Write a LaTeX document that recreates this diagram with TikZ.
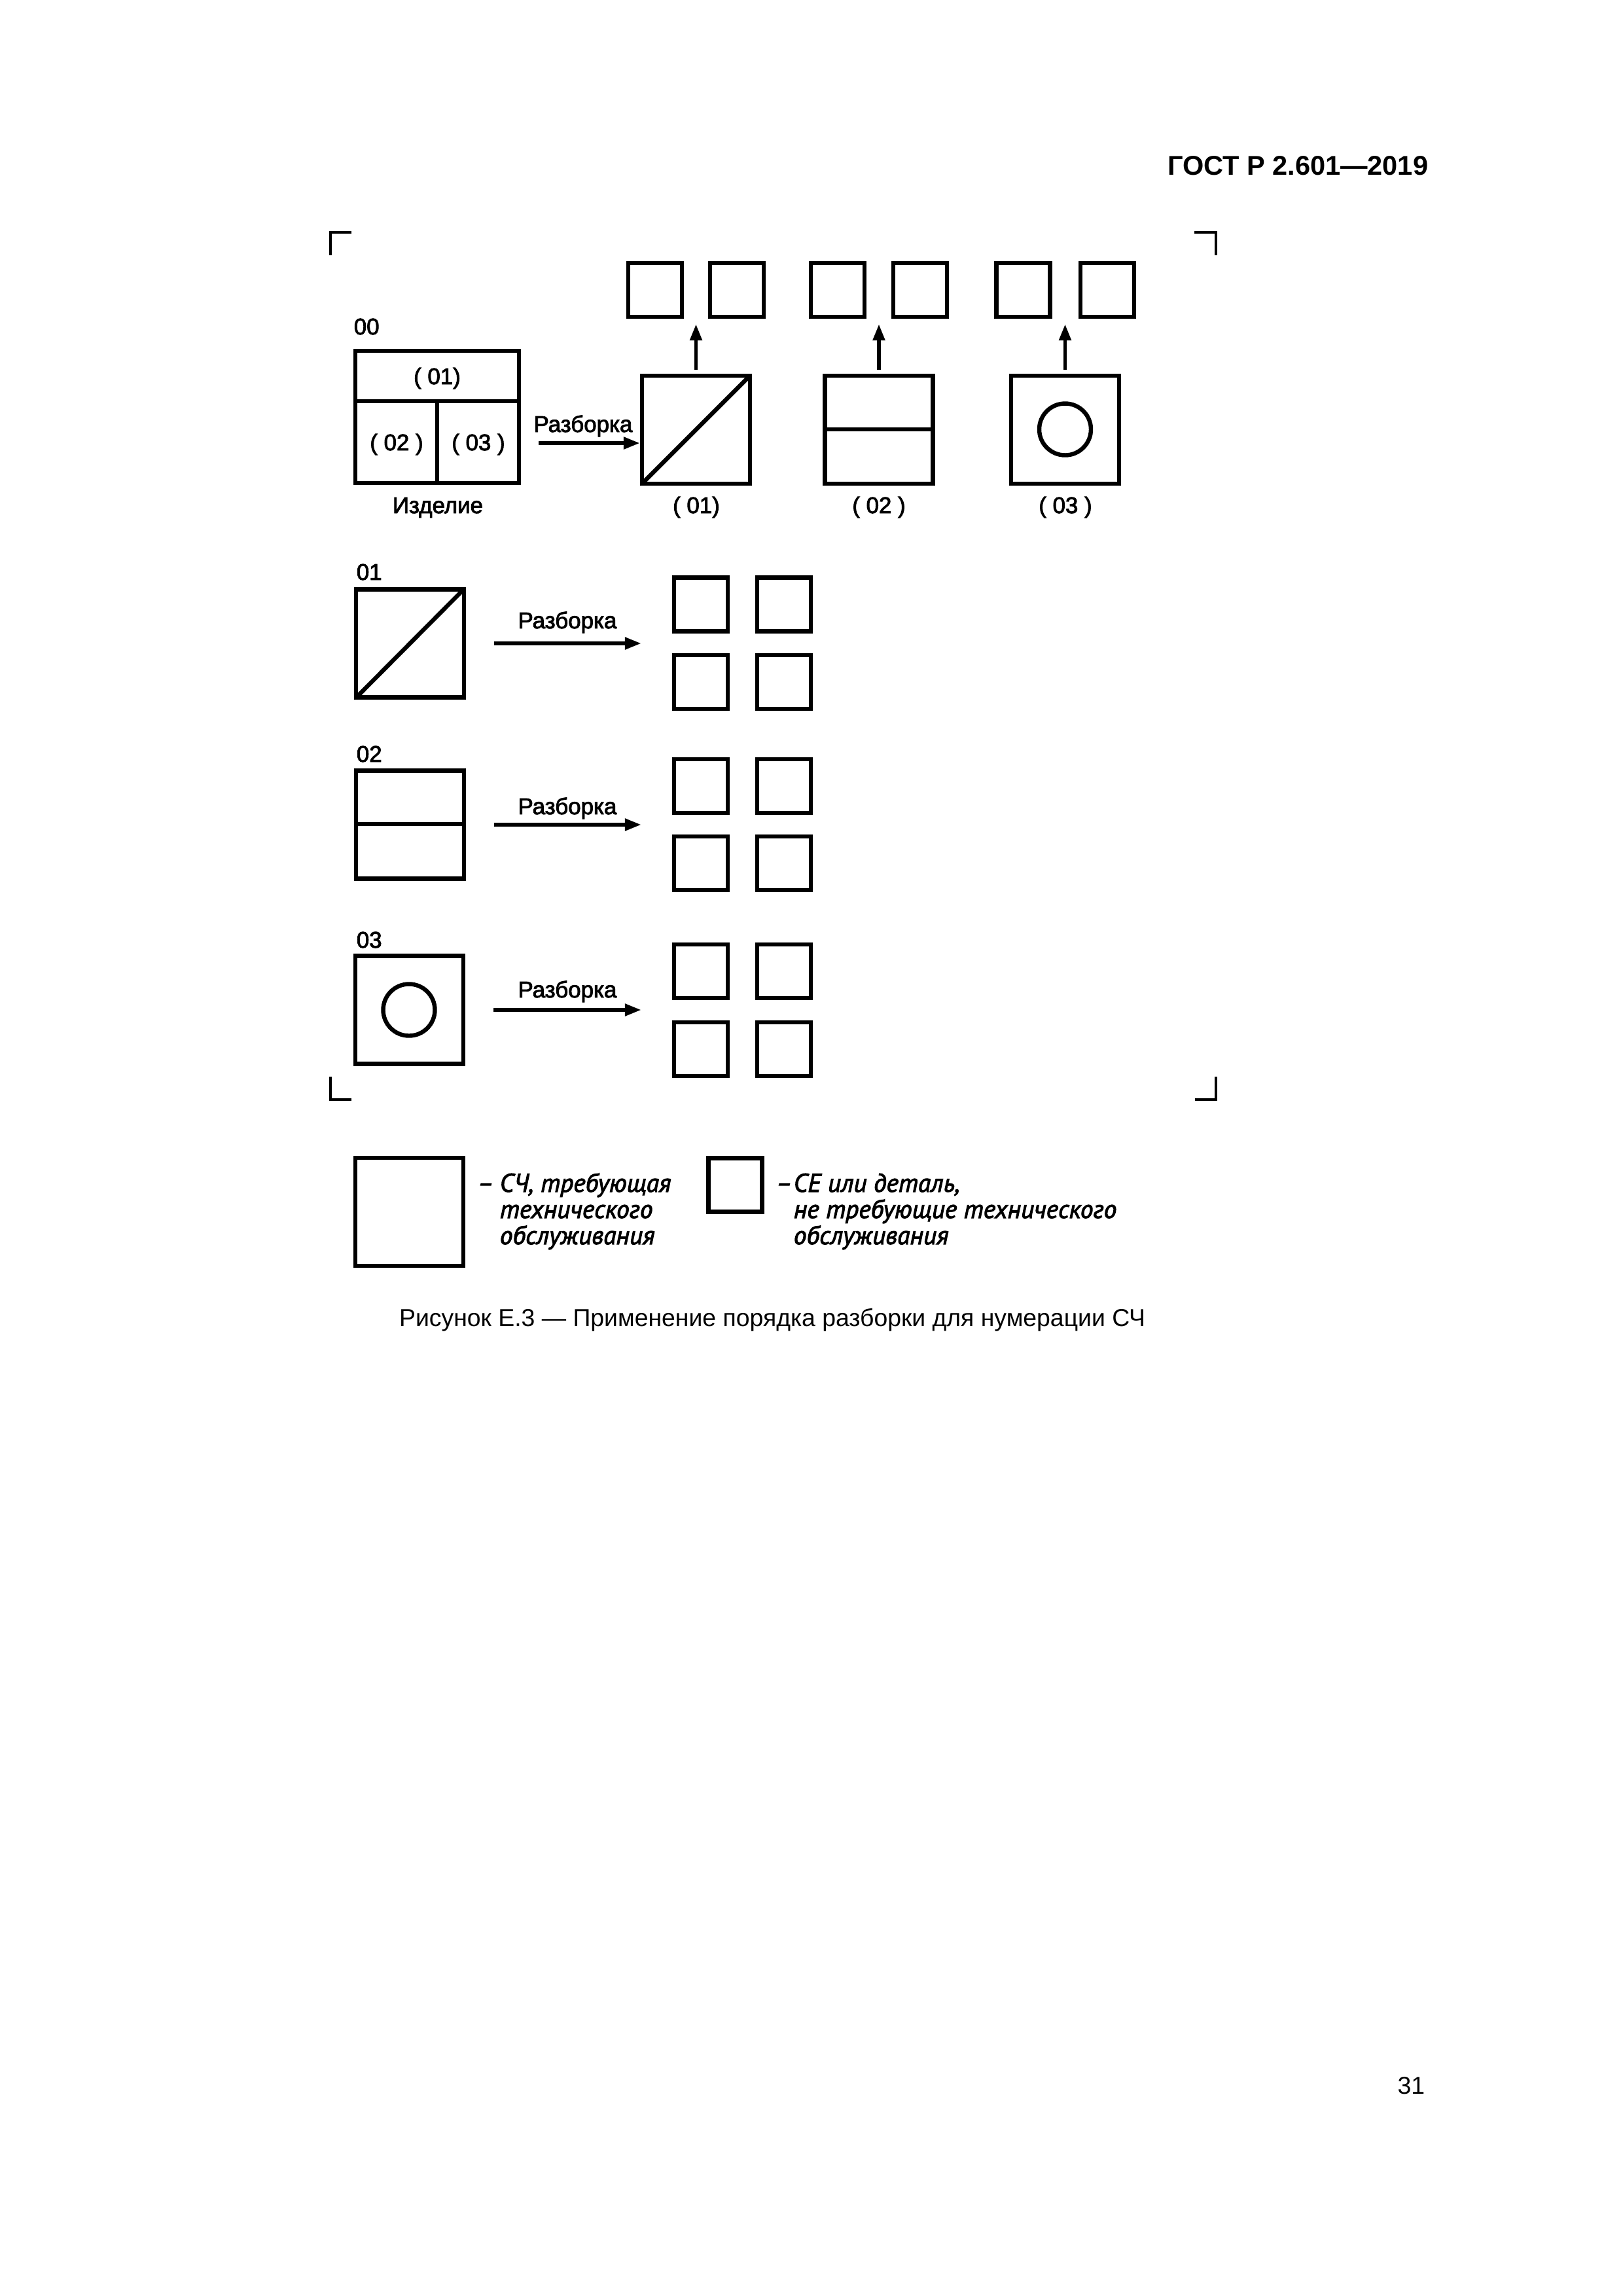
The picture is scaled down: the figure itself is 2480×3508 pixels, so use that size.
\documentclass[tikz,border=0pt]{standalone}
\usepackage{fontspec}
\setmainfont{Liberation Sans}
\newfontfamily\labfont[FakeBold=2.5]{Liberation Sans}
\newfontfamily\legfont[FakeBold=2.5]{PT Sans Italic}
\usetikzlibrary{arrows.meta}
\begin{document}
\begin{tikzpicture}[x=0.24093pt,y=-0.24093pt,
  frame/.style={draw, line width=1.55pt, inner sep=0pt},
  bigbx/.style={frame, minimum width=39.75pt, minimum height=39.75pt},
  smbx/.style={frame, minimum width=19.8pt, minimum height=19.8pt},
  lab/.style={inner sep=0pt, anchor=base, font=\labfont\fontsize{8.4}{10}\selectfont},
  labw/.style={lab, anchor=base west},
  leg/.style={inner sep=0pt, anchor=base west, font=\legfont\fontsize{9.5}{10}\selectfont},
  arr/.style={line width=1.35pt, -{Triangle[length=6pt,width=4.3pt]}},
  corner/.style={line width=0.9pt},
  part/.style={line width=1.55pt}
]
\fill[white] (0,0) rectangle (2480,3508);
\useasboundingbox (0,0) rectangle (2480,3508);

% header and page number
\node[anchor=base east, inner sep=0pt, font=\bfseries\fontsize{10}{12}\selectfont] (hdr) at (2183,267) {ГОСТ Р 2.601—2019};
\node[anchor=base east, inner sep=0pt, font=\fontsize{9}{11}\selectfont] (pg) at (2178,3199) {31};

% corner marks
\draw[corner] (537,355) -- (505,355) -- (505,390);
\draw[corner] (1825,355) -- (1858,355) -- (1858,390);
\draw[corner] (505,1645) -- (505,1680) -- (537,1680);
\draw[corner] (1858,1645) -- (1858,1680) -- (1826,1680);

% ---------- top: product ----------
\node[labw] (l00) at (540,511) {00};
\node[frame, minimum width=60.23pt, minimum height=48.67pt] (b00) at (668,637) {};
\draw[part] (543,613) -- (793,613);
\draw[part] (668,613) -- (668,738);
\node[lab] (p01) at (668,587) {( 01)};
\node[lab] (p02) at (606,688) {( 02 )};
\node[lab] (p03) at (731,688) {( 03 )};
\node[lab] (izd) at (669,784) {Изделие};

\coordinate (a0) at (823,677);
\node[lab] (raz0) at (891,660) {Разборка};

\node[bigbx] (b01) at (1063.5,656.5) {};
\draw[part] (981,739) -- (1146,574);
\node[bigbx] (b02) at (1343,656.5) {};
\draw[part] (1260,656) -- (1426,656);
\node[bigbx] (b03) at (1627.5,656.5) {};
\draw[part] (1627.5,656) circle[radius=39.5];

\draw[arr] (a0) -- (a0 -| b01.west);

\node[lab] (q01) at (1064,784) {( 01)};
\node[lab] (q02) at (1343,784) {( 02 )};
\node[lab] (q03) at (1628,784) {( 03 )};

\node[smbx] (t1a) at (1001,443) {};
\node[smbx] (t1b) at (1126,443) {};
\node[smbx] (t2a) at (1280,443) {};
\node[smbx] (t2b) at (1406,443) {};
\node[smbx] (t3a) at (1563.5,443) {};
\node[smbx] (t3b) at (1692,443) {};

\draw[arr, shorten <=1.45pt, shorten >=1.9pt] (b01.north) -- (b01.north |- t1a.south);
\draw[arr, shorten <=1.45pt, shorten >=1.9pt] (b02.north) -- (b02.north |- t2a.south);
\draw[arr, shorten <=1.45pt, shorten >=1.9pt] (b03.north) -- (b03.north |- t3a.south);

% ---------- row 01 ----------
\node[labw] (l01) at (544,886) {01};
\node[bigbx] (r1) at (626.5,983) {};
\draw[part] (544,1066) -- (709,900);
\node[lab] (raz1) at (867,960) {Разборка};
\node[smbx] (r1a) at (1071,923.5) {};
\node[smbx] (r1b) at (1198,923.5) {};
\node[smbx] (r1c) at (1071,1042) {};
\node[smbx] (r1d) at (1198,1042) {};
\draw[arr, shorten <=10.4pt, shorten >=11.3pt] (r1.east) -- (r1.east -| r1a.west);

% ---------- row 02 ----------
\node[labw] (l02) at (544,1164) {02};
\node[bigbx] (r2) at (626.5,1260) {};
\draw[part] (544,1259) -- (709,1259);
\node[lab] (raz2) at (867,1244) {Разборка};
\node[smbx] (r2a) at (1071,1201) {};
\node[smbx] (r2b) at (1198,1201) {};
\node[smbx] (r2c) at (1071,1319) {};
\node[smbx] (r2d) at (1198,1319) {};
\draw[arr, shorten <=10.4pt, shorten >=11.3pt] (r2.east) -- (r2.east -| r2a.west);

% ---------- row 03 ----------
\node[labw] (l03) at (544,1448) {03};
\node[bigbx] (r3) at (625.5,1543) {};
\draw[part] (625,1543) circle[radius=39.5];
\node[lab] (raz3) at (867,1524) {Разборка};
\node[smbx] (r3a) at (1071,1484) {};
\node[smbx] (r3b) at (1198,1484) {};
\node[smbx] (r3c) at (1071,1603) {};
\node[smbx] (r3d) at (1198,1603) {};
\draw[arr, shorten <=10.4pt, shorten >=11.3pt] (r3.east) -- (r3.east -| r3a.west);

% ---------- legend ----------
\node[bigbx] (lg1) at (625.5,1851.5) {};
\node[leg] (d1) at (729,1821) {–};
\node[leg] (g1a) at (763,1821) {СЧ, требующая};
\node[leg] (g1b) at (763,1861) {технического};
\node[leg] (g1c) at (763,1901) {обслуживания};

\node[smbx] (lg2) at (1123.5,1810.5) {};
\node[leg] (d2) at (1185,1821) {–};
\node[leg] (g2a) at (1212,1821) {СЕ или деталь,};
\node[leg] (g2b) at (1212,1861) {не требующие технического};
\node[leg] (g2c) at (1212,1901) {обслуживания};

% caption
\node[anchor=base, inner sep=0pt, font=\fontsize{9}{11}\selectfont] (cap) at (1180,2026) {Рисунок Е.3 — Применение порядка разборки для нумерации СЧ};
\end{tikzpicture}
\end{document}
